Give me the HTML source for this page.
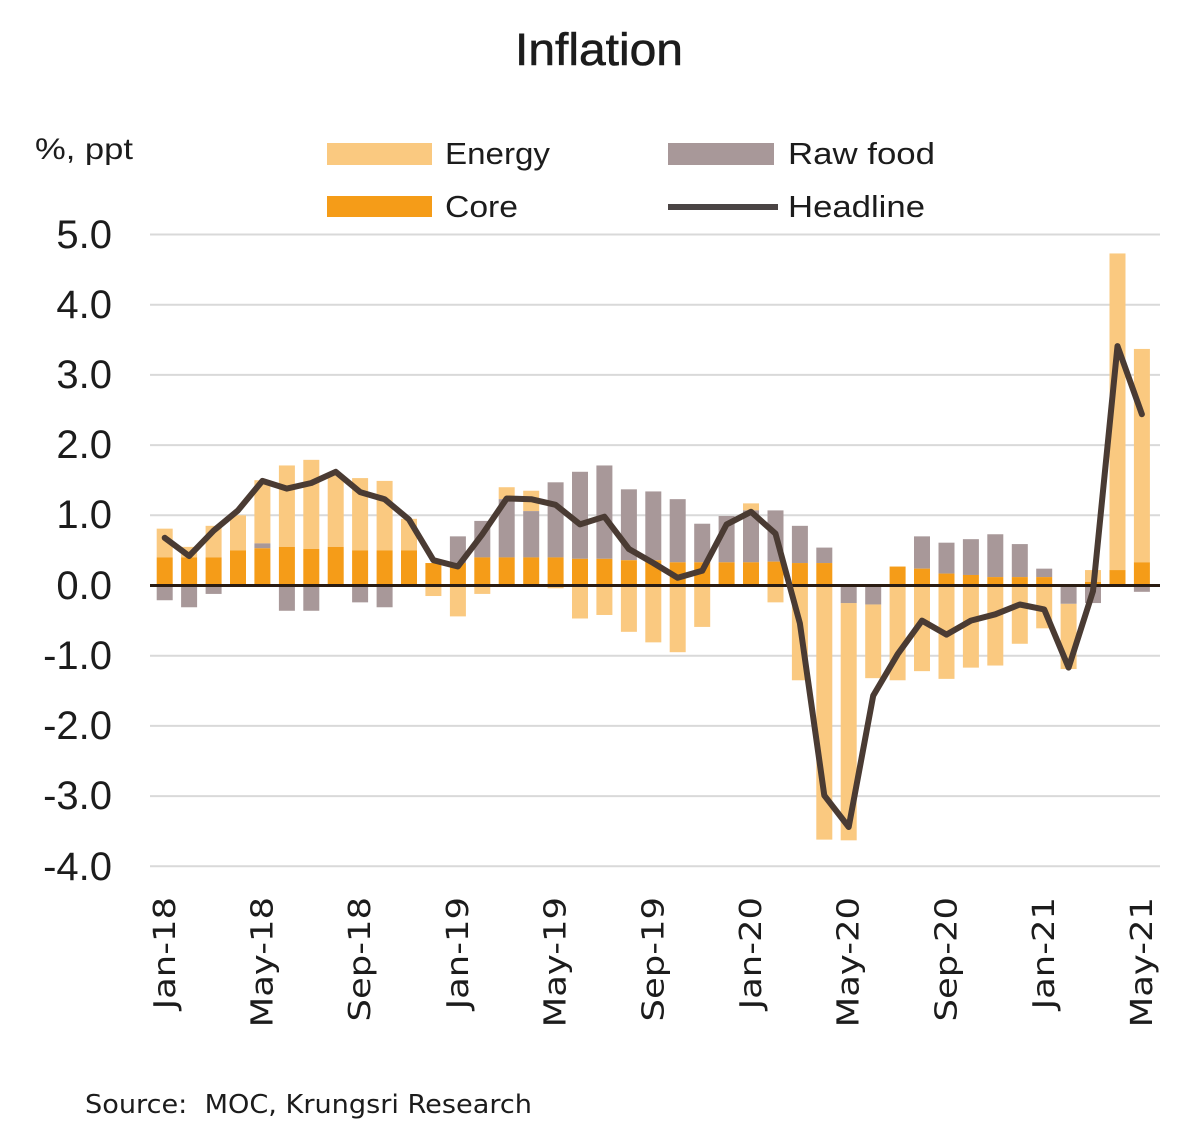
<!DOCTYPE html>
<html><head><meta charset="utf-8"><style>
html,body{margin:0;padding:0;background:#fff;}
svg{display:block;}
text{fill:#1c1c1c;}
</style></head><body>
<svg width="1200" height="1147" viewBox="0 0 1200 1147" xmlns="http://www.w3.org/2000/svg">
<rect width="1200" height="1147" fill="#fff"/>
<text x="599" y="65" font-family="Liberation Sans, sans-serif" font-size="45" text-anchor="middle" textLength="168" lengthAdjust="spacingAndGlyphs" stroke="#1c1c1c" stroke-width="0.6">Inflation</text>
<text x="35" y="159" font-family="Liberation Sans, sans-serif" font-size="30" textLength="98" lengthAdjust="spacingAndGlyphs">%, ppt</text>
<rect x="327" y="143" width="105" height="22" fill="#fac980"/>
<text x="445" y="164" font-family="Liberation Sans, sans-serif" font-size="31" textLength="105" lengthAdjust="spacingAndGlyphs">Energy</text>
<rect x="668" y="143" width="106" height="22" fill="#a89899"/>
<text x="788" y="164" font-family="Liberation Sans, sans-serif" font-size="31" textLength="147" lengthAdjust="spacingAndGlyphs">Raw food</text>
<rect x="327" y="196" width="105" height="21" fill="#f59c18"/>
<text x="445" y="217" font-family="Liberation Sans, sans-serif" font-size="31" textLength="73" lengthAdjust="spacingAndGlyphs">Core</text>
<line x1="668" y1="207" x2="778" y2="207" stroke="#4a4444" stroke-width="6"/>
<text x="788" y="217" font-family="Liberation Sans, sans-serif" font-size="31" textLength="137" lengthAdjust="spacingAndGlyphs">Headline</text>
<g stroke="#d9d9d9" stroke-width="2">
<line x1="150" y1="234.5" x2="1160" y2="234.5"/>
<line x1="150" y1="304.7" x2="1160" y2="304.7"/>
<line x1="150" y1="374.9" x2="1160" y2="374.9"/>
<line x1="150" y1="445.1" x2="1160" y2="445.1"/>
<line x1="150" y1="515.3" x2="1160" y2="515.3"/>
<line x1="150" y1="655.7" x2="1160" y2="655.7"/>
<line x1="150" y1="725.9" x2="1160" y2="725.9"/>
<line x1="150" y1="796.1" x2="1160" y2="796.1"/>
<line x1="150" y1="866.3" x2="1160" y2="866.3"/>
</g>
<g font-family="Liberation Sans, sans-serif" font-size="40" text-anchor="end">
<text x="112" y="248">5.0</text>
<text x="112" y="318">4.0</text>
<text x="112" y="388">3.0</text>
<text x="112" y="458">2.0</text>
<text x="112" y="528">1.0</text>
<text x="112" y="599">0.0</text>
<text x="112" y="669">-1.0</text>
<text x="112" y="739">-2.0</text>
<text x="112" y="809">-3.0</text>
<text x="112" y="880">-4.0</text>
</g>
<g fill="#fac980">
<rect x="156.7" y="528.64" width="16" height="28.78"/>
<rect x="181.1" y="546.89" width="16" height="10.53"/>
<rect x="205.6" y="525.83" width="16" height="31.59"/>
<rect x="230.0" y="515.3" width="16" height="35.1"/>
<rect x="254.4" y="480.2" width="16" height="63.18"/>
<rect x="278.9" y="465.46" width="16" height="81.43"/>
<rect x="303.3" y="459.84" width="16" height="89.15"/>
<rect x="327.7" y="474.58" width="16" height="72.31"/>
<rect x="352.1" y="478.09" width="16" height="72.31"/>
<rect x="376.6" y="480.9" width="16" height="69.5"/>
<rect x="401.0" y="518.81" width="16" height="31.59"/>
<rect x="425.4" y="585.5" width="16" height="10.53"/>
<rect x="449.9" y="585.5" width="16" height="30.89"/>
<rect x="474.3" y="585.5" width="16" height="8.42"/>
<rect x="498.7" y="487.22" width="16" height="11.93"/>
<rect x="523.2" y="490.73" width="16" height="20.36"/>
<rect x="547.6" y="585.5" width="16" height="2.81"/>
<rect x="572.0" y="585.5" width="16" height="32.99"/>
<rect x="596.4" y="585.5" width="16" height="29.48"/>
<rect x="620.9" y="585.5" width="16" height="46.33"/>
<rect x="645.3" y="585.5" width="16" height="56.86"/>
<rect x="669.7" y="585.5" width="16" height="66.69"/>
<rect x="694.2" y="585.5" width="16" height="41.42"/>
<rect x="743.0" y="503.37" width="16" height="7.02"/>
<rect x="767.5" y="585.5" width="16" height="16.85"/>
<rect x="791.9" y="585.5" width="16" height="94.77"/>
<rect x="816.3" y="585.5" width="16" height="254.12"/>
<rect x="840.7" y="603.05" width="16" height="237.28"/>
<rect x="865.2" y="604.45" width="16" height="73.71"/>
<rect x="889.6" y="585.5" width="16" height="94.77"/>
<rect x="914.0" y="585.5" width="16" height="85.64"/>
<rect x="938.5" y="585.5" width="16" height="93.37"/>
<rect x="962.9" y="585.5" width="16" height="82.13"/>
<rect x="987.3" y="585.5" width="16" height="80.03"/>
<rect x="1011.8" y="585.5" width="16" height="58.27"/>
<rect x="1036.2" y="585.5" width="16" height="42.82"/>
<rect x="1060.6" y="603.75" width="16" height="65.29"/>
<rect x="1085.0" y="570.06" width="16" height="11.93"/>
<rect x="1109.5" y="253.45" width="16" height="316.6"/>
<rect x="1133.9" y="348.93" width="16" height="213.41"/>
</g>
<g fill="#a89899">
<rect x="156.7" y="585.5" width="16" height="14.74"/>
<rect x="181.1" y="585.5" width="16" height="21.76"/>
<rect x="205.6" y="585.5" width="16" height="8.42"/>
<rect x="254.4" y="543.38" width="16" height="4.91"/>
<rect x="278.9" y="585.5" width="16" height="25.27"/>
<rect x="303.3" y="585.5" width="16" height="25.27"/>
<rect x="352.1" y="585.5" width="16" height="16.85"/>
<rect x="376.6" y="585.5" width="16" height="21.76"/>
<rect x="449.9" y="536.36" width="16" height="26.68"/>
<rect x="474.3" y="520.92" width="16" height="36.5"/>
<rect x="498.7" y="499.15" width="16" height="58.27"/>
<rect x="523.2" y="511.09" width="16" height="46.33"/>
<rect x="547.6" y="482.31" width="16" height="75.11"/>
<rect x="572.0" y="471.78" width="16" height="87.05"/>
<rect x="596.4" y="465.46" width="16" height="93.37"/>
<rect x="620.9" y="489.33" width="16" height="70.9"/>
<rect x="645.3" y="491.43" width="16" height="68.8"/>
<rect x="669.7" y="499.15" width="16" height="63.18"/>
<rect x="694.2" y="523.72" width="16" height="38.61"/>
<rect x="718.6" y="516.0" width="16" height="46.33"/>
<rect x="743.0" y="510.39" width="16" height="51.95"/>
<rect x="767.5" y="510.39" width="16" height="51.25"/>
<rect x="791.9" y="525.83" width="16" height="37.21"/>
<rect x="816.3" y="547.59" width="16" height="15.44"/>
<rect x="840.7" y="585.5" width="16" height="17.55"/>
<rect x="865.2" y="585.5" width="16" height="18.95"/>
<rect x="914.0" y="536.36" width="16" height="32.29"/>
<rect x="938.5" y="542.68" width="16" height="30.89"/>
<rect x="962.9" y="539.17" width="16" height="35.8"/>
<rect x="987.3" y="534.25" width="16" height="42.82"/>
<rect x="1011.8" y="544.08" width="16" height="32.99"/>
<rect x="1036.2" y="568.65" width="16" height="8.42"/>
<rect x="1060.6" y="585.5" width="16" height="18.25"/>
<rect x="1085.0" y="585.5" width="16" height="17.55"/>
<rect x="1133.9" y="585.5" width="16" height="6.32"/>
</g>
<g fill="#f59c18">
<rect x="156.7" y="557.42" width="16" height="28.08"/>
<rect x="181.1" y="557.42" width="16" height="28.08"/>
<rect x="205.6" y="557.42" width="16" height="28.08"/>
<rect x="230.0" y="550.4" width="16" height="35.1"/>
<rect x="254.4" y="548.29" width="16" height="37.21"/>
<rect x="278.9" y="546.89" width="16" height="38.61"/>
<rect x="303.3" y="549.0" width="16" height="36.5"/>
<rect x="327.7" y="546.89" width="16" height="38.61"/>
<rect x="352.1" y="550.4" width="16" height="35.1"/>
<rect x="376.6" y="550.4" width="16" height="35.1"/>
<rect x="401.0" y="550.4" width="16" height="35.1"/>
<rect x="425.4" y="563.04" width="16" height="22.46"/>
<rect x="449.9" y="563.04" width="16" height="22.46"/>
<rect x="474.3" y="557.42" width="16" height="28.08"/>
<rect x="498.7" y="557.42" width="16" height="28.08"/>
<rect x="523.2" y="557.42" width="16" height="28.08"/>
<rect x="547.6" y="557.42" width="16" height="28.08"/>
<rect x="572.0" y="558.82" width="16" height="26.68"/>
<rect x="596.4" y="558.82" width="16" height="26.68"/>
<rect x="620.9" y="560.23" width="16" height="25.27"/>
<rect x="645.3" y="560.23" width="16" height="25.27"/>
<rect x="669.7" y="562.33" width="16" height="23.17"/>
<rect x="694.2" y="562.33" width="16" height="23.17"/>
<rect x="718.6" y="562.33" width="16" height="23.17"/>
<rect x="743.0" y="562.33" width="16" height="23.17"/>
<rect x="767.5" y="561.63" width="16" height="23.87"/>
<rect x="791.9" y="563.04" width="16" height="22.46"/>
<rect x="816.3" y="563.04" width="16" height="22.46"/>
<rect x="840.7" y="584.1" width="16" height="1.4"/>
<rect x="889.6" y="566.55" width="16" height="18.95"/>
<rect x="914.0" y="568.65" width="16" height="16.85"/>
<rect x="938.5" y="573.57" width="16" height="11.93"/>
<rect x="962.9" y="574.97" width="16" height="10.53"/>
<rect x="987.3" y="577.08" width="16" height="8.42"/>
<rect x="1011.8" y="577.08" width="16" height="8.42"/>
<rect x="1036.2" y="577.08" width="16" height="8.42"/>
<rect x="1085.0" y="581.99" width="16" height="3.51"/>
<rect x="1109.5" y="570.06" width="16" height="15.44"/>
<rect x="1133.9" y="562.33" width="16" height="23.17"/>
</g>
<line x1="150" y1="585.5" x2="1160" y2="585.5" stroke="#2a1c12" stroke-width="3"/>
<polyline fill="none" stroke="#4a3b33" stroke-width="6" stroke-linejoin="round" stroke-linecap="round" points="164.7,537.8 189.1,556.0 213.6,530.7 238.0,510.4 262.4,480.9 286.9,488.6 311.3,483.0 335.7,471.8 360.1,492.1 384.6,499.2 409.0,519.5 433.4,560.2 457.9,566.5 482.3,534.3 506.7,498.5 531.2,499.2 555.6,504.8 580.0,524.4 604.4,516.7 628.9,549.0 653.3,563.0 677.7,577.8 702.2,570.8 726.6,524.4 751.0,511.8 775.5,533.6 799.9,623.4 824.3,795.4 848.7,827.0 873.2,695.7 897.6,654.3 922.0,620.6 946.5,634.6 970.9,620.6 995.3,614.3 1019.8,604.5 1044.2,609.4 1068.6,667.6 1093.0,591.1 1117.5,346.1 1141.9,414.2"/>
<g font-family="DejaVu Sans, sans-serif" font-size="30" text-anchor="end">
<text transform="translate(175,897) rotate(-90) scale(1.18,1)">Jan-18</text>
<text transform="translate(272.4,897) rotate(-90) scale(1.18,1)">May-18</text>
<text transform="translate(370.1,897) rotate(-90) scale(1.18,1)">Sep-18</text>
<text transform="translate(467.9,897) rotate(-90) scale(1.18,1)">Jan-19</text>
<text transform="translate(565.6,897) rotate(-90) scale(1.18,1)">May-19</text>
<text transform="translate(663.3,897) rotate(-90) scale(1.18,1)">Sep-19</text>
<text transform="translate(761,897) rotate(-90) scale(1.18,1)">Jan-20</text>
<text transform="translate(858.7,897) rotate(-90) scale(1.18,1)">May-20</text>
<text transform="translate(956.5,897) rotate(-90) scale(1.18,1)">Sep-20</text>
<text transform="translate(1054.2,897) rotate(-90) scale(1.18,1)">Jan-21</text>
<text transform="translate(1151.9,897) rotate(-90) scale(1.18,1)">May-21</text>
</g>
<text x="85" y="1113" font-family="DejaVu Sans, sans-serif" font-size="26" textLength="447" lengthAdjust="spacingAndGlyphs">Source:&#160; MOC, Krungsri Research</text>
</svg>
</body></html>
